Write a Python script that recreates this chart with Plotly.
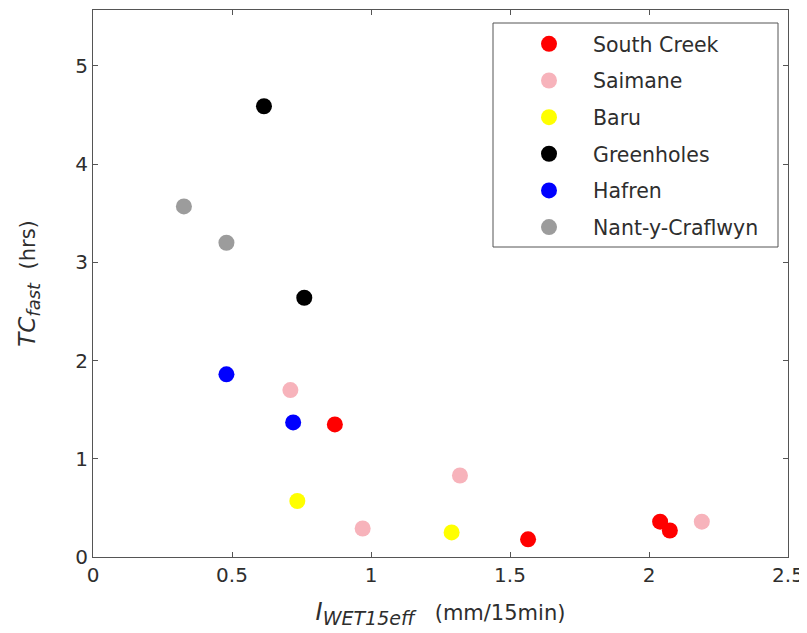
import plotly.graph_objects as go

series_names = ["South Creek", "Saimane", "Baru", "Greenholes", "Hafren", "Nant-y-Craflwyn"]
series_colors = ["#ff0000", "#f7b3bb", "#ffff00", "#000000", "#0000ff", "#9c9c9c"]

south_creek_x = [0.87, 1.565, 2.04, 2.075]
south_creek_y = [1.35, 0.18, 0.36, 0.27]
saimane_x = [0.71, 0.97, 1.32, 2.19]
saimane_y = [1.70, 0.29, 0.83, 0.36]
baru_x = [0.735, 1.29]
baru_y = [0.57, 0.25]
greenholes_x = [0.615, 0.76]
greenholes_y = [4.59, 2.64]
hafren_x = [0.48, 0.72]
hafren_y = [1.86, 1.37]
nant_x = [0.327, 0.48]
nant_y = [3.57, 3.20]

xs = [south_creek_x, saimane_x, baru_x, greenholes_x, hafren_x, nant_x]
ys = [south_creek_y, saimane_y, baru_y, greenholes_y, hafren_y, nant_y]

x_ticks = [0, 0.5, 1, 1.5, 2, 2.5]
x_tick_labels = ["0", "0.5", "1", "1.5", "2", "2.5"]
y_ticks = [0, 1, 2, 3, 4, 5]
y_tick_labels = ["0", "1", "2", "3", "4", "5"]

fig = go.Figure()
for i, (name, color, x, y) in enumerate(zip(series_names, series_colors, xs, ys)):
    fig.add_trace(go.Scatter(
        x=x, y=y, mode="markers", name=name, legendgroup=f"g{i}",
        marker=dict(color=color, size=16, line=dict(width=0)),
    ))

font_fam = "DejaVu Sans, Liberation Sans, Arial, sans-serif"
txt_color = "#2e2e2e"
axis_common = dict(
    showline=True, linecolor="#555555", linewidth=1, mirror="ticks",
    ticks="inside", ticklen=5, tickcolor="#555555", showgrid=False, zeroline=False,
    tickfont=dict(family=font_fam, size=20, color=txt_color),
    ticklabeloverflow="allow",
)

# the page body has an 8px margin, so the figure is offset by (8, 8)
L, R, T, B = 85, 19, 2, 76
W, H = 799, 625
pw = W - L - R
ph = H - T - B

def px(xpix):
    return (xpix - 8 - L) / pw

def py(ypix):
    return (H - B - (ypix - 8)) / ph

x_title = ("<span style='font-size:24px'><i>I</i></span>"
           "<sub><span style='font-size:19px'><i>WET15eff</i></span></sub>"
           "&nbsp;&nbsp;&nbsp;(mm/15min)")
y_title = ("<span style='font-size:23px'><i>TC</i></span>"
           "<sub><span style='font-size:18px'><i>fast</i></span></sub>"
           "&nbsp;&nbsp;(hrs)")

fig.update_layout(
    width=W, height=H,
    margin=dict(l=L, r=R, t=T, b=B, autoexpand=False),
    paper_bgcolor="white", plot_bgcolor="white",
    showlegend=True,
    legend=dict(
        x=px(505), y=py(24), xanchor="left", yanchor="top",
        bgcolor="rgba(0,0,0,0)", borderwidth=0,
        font=dict(family=font_fam, size=20.5, color=txt_color),
        traceorder="grouped", tracegroupgap=7.0, itemwidth=78,
    ),
    xaxis=dict(range=[0, 2.5], tickvals=x_ticks, ticktext=x_tick_labels,
               title=dict(text=x_title, font=dict(family=font_fam, size=21, color=txt_color),
                          standoff=19),
               automargin=False, **axis_common),
    yaxis=dict(range=[0, 5.57], tickvals=y_ticks, ticktext=y_tick_labels,
               title=dict(text=y_title, font=dict(family=font_fam, size=21, color=txt_color),
                          standoff=33),
               automargin=False, **axis_common),
    shapes=[dict(type="rect", xref="paper", yref="paper",
                 x0=px(493), x1=px(778), y0=py(247), y1=py(23),
                 line=dict(color="#555555", width=1), fillcolor="rgba(0,0,0,0)")],
)

fig.write_html("out.html")
